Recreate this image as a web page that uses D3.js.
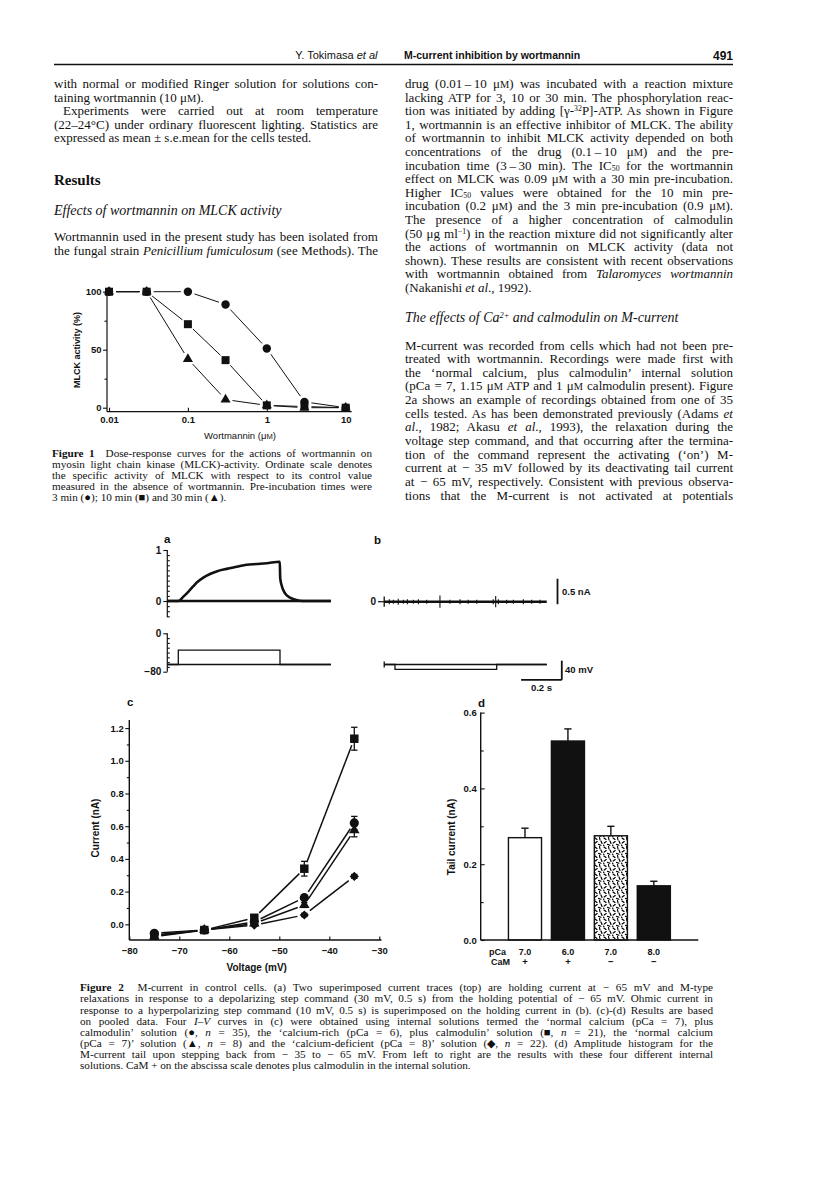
<!DOCTYPE html>
<html>
<head>
<meta charset="utf-8">
<title>M-current inhibition by wortmannin</title>
<script src="https://cdn.jsdelivr.net/npm/d3@7"></script>
<style>
  body { margin: 0; background: #fff; }
  svg { display: block; }
</style>
</head>
<body>
<script>
// ---- Figure 1: MLCK activity (%) against wortmannin (uM), three pre-incubation times
const fig1Conc = [0.01, 0.03, 0.1, 0.3, 1, 3, 10];
const fig1Pre3 = [100, 100, 100, 89, 51, 5, 0];     // circles
const fig1Pre10 = [100, 100, 72, 41, 2, 1, 0];      // squares
const fig1Pre30 = [100, 100, 42, 7, 2, 0, 0];       // triangles
const fig1XTicks = [0.01, 0.1, 1, 10];
const fig1YTicks = [0, 50, 100];

// ---- Figure 2a: current (nA) against time from step onset (ms)
const traceATime = [-54, 0, 25, 49, 74, 90, 123, 156, 188, 238, 287, 336, 385, 434, 499, 501, 510, 525, 550, 580, 610, 750];
const traceACurrent = [0, 0, 0.085, 0.18, 0.29, 0.36, 0.46, 0.53, 0.58, 0.63, 0.67, 0.71, 0.725, 0.74, 0.77, 0.45, 0.28, 0.15, 0.065, 0.02, 0, 0];
const holdATime = [-54, 750];
const holdACurrent = [0, 0];
const cmdATime = [-54, 0, 0, 500, 500, 750];
const cmdAVolt = [-65, -65, -35, -35, -65, -65];

// ---- Figure 2b: ohmic current with step artefacts
const traceBTime = [-53, 746];
const traceBCurrent = [0, 0];
const spikeBTime = [-28, -8, 16, 41, 61, 90, 115, 156, 221, 270, 320, 360, 402, 483, 495, 508, 549, 582, 631, 672, 713];
const spikeBAmp = [0.05, 0.04, 0.06, 0.04, 0.05, 0.04, 0.05, 0.04, 0.12, 0.04, 0.05, 0.04, 0.04, 0.05, 0.11, 0.05, 0.04, 0.04, 0.05, 0.04, 0.04];
const cmdBTime = [-53, 0, 0, 500, 500, 746];
const cmdBVolt = [-65, -65, -75, -75, -65, -65];

// ---- Figure 2c: I-V curves
const ivVolt = [-75, -65, -55, -45, -35];
const ivCa7CaM = [-0.055, -0.035, 0.015, 0.163, 0.62];     // circles, n = 35
const ivCa7CaMErr = [0.01, 0.008, 0.008, 0.015, 0.04];
const ivCa6CaM = [-0.07, -0.035, 0.04, 0.34, 1.135];       // squares, n = 21
const ivCa6CaMErr = [0.01, 0.008, 0.01, 0.045, 0.07];
const ivCa7 = [-0.075, -0.035, 0.005, 0.118, 0.575];       // triangles, n = 8
const ivCa7Err = [0.01, 0.008, 0.008, 0.015, 0.04];
const ivCa8 = [-0.065, -0.035, -0.005, 0.057, 0.293];      // diamonds, n = 22
const ivCa8Err = [0.008, 0.008, 0.008, 0.01, 0.012];
const ivXTicks = [-80, -70, -60, -50, -40, -30];
const ivYTicks = [0, 0.2, 0.4, 0.6, 0.8, 1.0, 1.2];

// ---- Figure 2d: tail current (nA)
const tailPCa = ["7.0", "6.0", "7.0", "8.0"];
const tailCaM = ["+", "+", "−", "−"];
const tailMean = [0.27, 0.525, 0.275, 0.143];
const tailErr = [0.025, 0.032, 0.025, 0.012];
const tailYTicks = [0, 0.2, 0.4, 0.6];

// ---- page text
const methodsLines = [
  { t: "with normal or modified Ringer solution for solutions con-", j: 1 },
  { t: "taining wortmannin (10 μ{sm:M})." },
  { t: "Experiments were carried out at room temperature", j: 1, ind: 9 },
  { t: "(22–24°C) under ordinary fluorescent lighting. Statistics are", j: 1 },
  { t: "expressed as mean ± s.e.mean for the cells tested." }
];
const mlckLeftLines = [
  { t: "Wortmannin used in the present study has been isolated from", j: 1 },
  { t: "the fungal strain {i:Penicillium fumiculosum} (see Methods). The", j: 1 }
];
const mlckRightLines = [
  { t: "drug (0.01\u2009–\u200910 μ{sm:M}) was incubated with a reaction mixture", j: 1 },
  { t: "lacking ATP for 3, 10 or 30 min. The phosphorylation reac-", j: 1 },
  { t: "tion was initiated by adding [γ-{sup:32}P]-ATP. As shown in Figure", j: 1 },
  { t: "1, wortmannin is an effective inhibitor of MLCK. The ability", j: 1 },
  { t: "of wortmannin to inhibit MLCK activity depended on both", j: 1 },
  { t: "concentrations of the drug (0.1\u2009–\u200910 μ{sm:M}) and the pre-", j: 1 },
  { t: "incubation time (3\u2009–\u200930 min). The IC{sub:50} for the wortmannin", j: 1 },
  { t: "effect on MLCK was 0.09 μ{sm:M} with a 30 min pre-incubation.", j: 1 },
  { t: "Higher IC{sub:50} values were obtained for the 10 min pre-", j: 1 },
  { t: "incubation (0.2 μ{sm:M}) and the 3 min pre-incubation (0.9 μ{sm:M}).", j: 1 },
  { t: "The presence of a higher concentration of calmodulin", j: 1 },
  { t: "(50 μg ml{sup:−1}) in the reaction mixture did not significantly alter", j: 1 },
  { t: "the actions of wortmannin on MLCK activity (data not", j: 1 },
  { t: "shown). These results are consistent with recent observations", j: 1 },
  { t: "with wortmannin obtained from {i:Talaromyces wortmannin}", j: 1 },
  { t: "(Nakanishi {i:et al}., 1992)." }
];
const mcurrentLines = [
  { t: "M-current was recorded from cells which had not been pre-", j: 1 },
  { t: "treated with wortmannin. Recordings were made first with", j: 1 },
  { t: "the ‘normal calcium, plus calmodulin’ internal solution", j: 1 },
  { t: "(pCa = 7, 1.15 μ{sm:M} ATP and 1 μ{sm:M} calmodulin present). Figure", j: 1 },
  { t: "2a shows an example of recordings obtained from one of 35", j: 1 },
  { t: "cells tested. As has been demonstrated previously (Adams {i:et}", j: 1 },
  { t: "{i:al}., 1982; Akasu {i:et al}., 1993), the relaxation during the", j: 1 },
  { t: "voltage step command, and that occurring after the termina-", j: 1 },
  { t: "tion of the command represent the activating (‘on’) M-", j: 1 },
  { t: "current at − 35 mV followed by its deactivating tail current", j: 1 },
  { t: "at − 65 mV, respectively. Consistent with previous observa-", j: 1 },
  { t: "tions that the M-current is not activated at potentials", j: 1 }
];
const fig1Caption = [
  { t: "{b:Figure 1}\u00a0 Dose-response curves for the actions of wortmannin on", j: 1 },
  { t: "myosin light chain kinase (MLCK)-activity. Ordinate scale denotes", j: 1 },
  { t: "the specific activity of MLCK with respect to its control value", j: 1 },
  { t: "measured in the absence of wortmannin. Pre-incubation times were", j: 1 },
  { t: "3 min (●); 10 min (■) and 30 min (▲)." }
];
const fig2Caption = [
  { t: "{b:Figure 2}\u00a0 M-current in control cells. (a) Two superimposed current traces (top) are holding current at − 65 mV and M-type", j: 1 },
  { t: "relaxations in response to a depolarizing step command (30 mV, 0.5 s) from the holding potential of − 65 mV. Ohmic current in", j: 1 },
  { t: "response to a hyperpolarizing step command (10 mV, 0.5 s) is superimposed on the holding current in (b). (c)-(d) Results are based", j: 1 },
  { t: "on pooled data. Four {i:I–V} curves in (c) were obtained using internal solutions termed the ‘normal calcium (pCa = 7), plus", j: 1 },
  { t: "calmodulin’ solution (●, {i:n} = 35), the ‘calcium-rich (pCa = 6), plus calmodulin’ solution (■, {i:n} = 21), the ‘normal calcium", j: 1 },
  { t: "(pCa = 7)’ solution (▲, {i:n} = 8) and the ‘calcium-deficient (pCa = 8)’ solution (◆, {i:n} = 22). (d) Amplitude histogram for the", j: 1 },
  { t: "M-current tail upon stepping back from − 35 to − 65 mV. From left to right are the results with these four different internal", j: 1 },
  { t: "solutions. CaM + on the abscissa scale denotes plus calmodulin in the internal solution." }
];

const ink = "#111";
const serif = "'Liberation Serif', 'Times New Roman', serif";
const sans = "'Liberation Sans', Arial, Helvetica, sans-serif";

const svg = d3.select("body").append("svg").attr("width", 816).attr("height", 1187);
svg.append("rect").attr("width", 816).attr("height", 1187).attr("fill", "#fff");

// stipple fill for the third bar
const pat = svg.append("defs").append("pattern")
  .attr("id", "stipple").attr("patternUnits", "userSpaceOnUse")
  .attr("width", 9).attr("height", 9);
pat.append("rect").attr("width", 9).attr("height", 9).attr("fill", "#fff");
pat.append("path")
  .attr("d", "M1,1 l2,1.5 M5.5,0.5 l0.5,2.5 M3.2,4.6 l-2,1.4 M7,4 l1,2.4 M4.5,7.4 l2.4,0.8 M0.6,8 l0.4,1.2")
  .attr("stroke", "#000").attr("stroke-width", 1.2).attr("stroke-linecap", "round");

// text with small inline markup: {i:..} {b:..} {sub:..} {sup:..} {sm:..}
function richText(g, x, y, src, o) {
  const size = o.size || 13;
  const t = g.append("text")
    .attr("x", x).attr("y", y)
    .attr("font-family", o.family || serif)
    .attr("font-size", size)
    .attr("fill", ink);
  if (o.anchor) t.attr("text-anchor", o.anchor);
  if (o.weight) t.attr("font-weight", o.weight);
  if (o.italic) t.attr("font-style", "italic");
  const re = /\{(i|b|sub|sup|sm):([^}]*)\}/g;
  const parts = [];
  let last = 0, m;
  while ((m = re.exec(src)) !== null) {
    if (m.index > last) parts.push(["", src.slice(last, m.index)]);
    parts.push([m[1], m[2]]);
    last = re.lastIndex;
  }
  if (last < src.length) parts.push(["", src.slice(last)]);
  let shift = 0;
  parts.forEach(([kind, s]) => {
    const span = t.append("tspan").text(s);
    let want = 0;
    if (kind === "i") span.attr("font-style", "italic");
    if (kind === "b") span.attr("font-weight", "bold");
    if (kind === "sm") span.attr("font-size", size * 0.8);
    if (kind === "sub") { span.attr("font-size", size * 0.6); want = size * 0.12; }
    if (kind === "sup") { span.attr("font-size", size * 0.6); want = -size * 0.3; }
    if (want !== shift) { span.attr("dy", want - shift); shift = want; }
  });
  if (o.width) {
    const gaps = (parts.map(p => p[1]).join("").match(/[ \u00a0]/g) || []).length;
    const natural = t.node().getComputedTextLength();
    if (gaps) t.attr("word-spacing", ((o.width - natural) / gaps).toFixed(2));
  }
  return t;
}

function paragraph(g, lines, x, y0, lead, width, o) {
  lines.forEach((ln, i) => {
    const ind = ln.ind || 0;
    richText(g, x + ind, y0 + i * lead, ln.t, Object.assign({}, o, { width: ln.j ? width - ind : null }));
  });
}

function styleAxis(sel, size, weight) {
  sel.select(".domain").remove();
  sel.selectAll(".tick line").attr("stroke", ink).attr("stroke-width", 1.1);
  sel.selectAll(".tick text").attr("fill", ink).attr("font-family", sans)
    .attr("font-size", size).attr("font-weight", weight || "bold");
}

function vline(g, x, ya, yb, w) {
  g.append("line").attr("x1", x).attr("x2", x).attr("y1", ya).attr("y2", yb)
    .attr("stroke", ink).attr("stroke-width", w || 1.2);
}
function hline(g, y, xa, xb, w) {
  g.append("line").attr("x1", xa).attr("x2", xb).attr("y1", y).attr("y2", y)
    .attr("stroke", ink).attr("stroke-width", w || 1.2);
}

// connecting segments stop short of the markers, as in the original plots
function series(g, pts, sym, size, gap, lw, rot) {
  for (let i = 0; i < pts.length - 1; i++) {
    const [ax, ay] = pts[i], [bx, by] = pts[i + 1];
    const dx = bx - ax, dy = by - ay, len = Math.hypot(dx, dy);
    if (len <= 2 * gap + 1) continue;
    const ux = dx / len, uy = dy / len;
    g.append("line")
      .attr("x1", ax + ux * gap).attr("y1", ay + uy * gap)
      .attr("x2", bx - ux * gap).attr("y2", by - uy * gap)
      .attr("stroke", ink).attr("stroke-width", lw);
  }
  g.selectAll(null).data(pts).join("path")
    .attr("transform", d => `translate(${d[0]},${d[1]})` + (rot ? " rotate(45)" : ""))
    .attr("d", d3.symbol(sym, size))
    .attr("fill", ink);
}

// ---------------- page header ----------------
const head = svg.append("g");
richText(head, 377.5, 59, "Y. Tokimasa {i:et al}", { family: sans, size: 11, anchor: "end" });
richText(head, 404, 59, "M-current inhibition by wortmannin", { family: sans, size: 10.5, weight: "bold" });
richText(head, 733, 60, "491", { family: sans, size: 12, weight: "bold", anchor: "end" });
hline(head, 64.5, 54, 733, 1.3);

// ---------------- body text ----------------
const body = svg.append("g");
const lead = 13.6;
paragraph(body, methodsLines, 54, 88, lead, 324, { size: 13 });
richText(body, 54, 185, "Results", { size: 15, weight: "bold" });
richText(body, 54, 215, "Effects of wortmannin on MLCK activity", { size: 14, italic: true });
paragraph(body, mlckLeftLines, 54, 241, lead, 324, { size: 13 });
paragraph(body, mlckRightLines, 405, 88, lead, 328, { size: 13 });
richText(body, 405, 322, "The effects of Ca{sup:2+} and calmodulin on M-current", { size: 14, italic: true });
paragraph(body, mcurrentLines, 405, 349.5, 13.65, 328, { size: 13 });

// ---------------- Figure 1 ----------------
const f1 = svg.append("g");
const x1 = d3.scaleLog().domain([0.01, 10]).range([109, 345.7]);
const y1 = d3.scaleLinear().domain([0, 100]).range([407.7, 291.7]);
hline(f1, 411.7, 107, 351.7, 1.2);
vline(f1, 107, 411.7, 290, 1.2);
f1.append("g").attr("transform", "translate(0,411.7)")
  .call(d3.axisBottom(x1).tickValues(fig1XTicks).tickSize(-4).tickPadding(5).tickFormat(d => String(d)))
  .call(s => styleAxis(s, 9.5));
f1.append("g").attr("transform", "translate(107,0)")
  .call(d3.axisLeft(y1).tickValues(fig1YTicks).tickSize(4).tickPadding(1.5))
  .call(s => styleAxis(s, 9.5));
f1.append("g").attr("transform", "translate(107,0)")
  .call(d3.axisLeft(y1).tickValues([25, 75]).tickSize(2.5).tickFormat(""))
  .call(s => styleAxis(s, 9.5));
richText(f1, 240, 438.5, "Wortmannin (μ{sm:M})", { family: sans, size: 9.5, anchor: "middle" });
richText(f1, 0, 0, "MLCK activity (%)", { family: sans, size: 9, weight: "bold", anchor: "middle" })
  .attr("transform", "translate(80,350) rotate(-90)");
const pts1 = ys => fig1Conc.map((c, i) => [x1(c), y1(ys[i])]);
series(f1, pts1(fig1Pre3), d3.symbolCircle, 56, 7, 1.0);
series(f1, pts1(fig1Pre30), d3.symbolTriangle, 44, 7, 1.0);
series(f1, pts1(fig1Pre10), d3.symbolSquare, 64, 7, 1.0);
paragraph(f1, fig1Caption, 52, 456.8, 11.1, 320, { size: 11.2 });

// ---------------- Figure 2a ----------------
const f2a = svg.append("g");
const ta = d3.scaleLinear().domain([0, 500]).range([178.3, 280]);
const ia = d3.scaleLinear().domain([0, 1]).range([601, 550]);
const va = d3.scaleLinear().domain([0, -80]).range([633.3, 671.7]);
richText(f2a, 164, 543, "a", { family: sans, size: 11.5, weight: "bold" });
vline(f2a, 167.3, ia(1), ia(-0.32), 1.2);
f2a.append("g").attr("transform", "translate(167.3,0)")
  .call(d3.axisLeft(ia).tickValues([0, 1]).tickSize(4).tickPadding(2).tickFormat(d3.format("d")))
  .call(s => styleAxis(s, 10));
f2a.append("g").attr("transform", "translate(167.3,0)")
  .call(d3.axisLeft(ia).tickValues(d3.range(-3, 10).map(k => k / 10)).tickSize(-2.5).tickFormat(""))
  .call(s => styleAxis(s, 10));
vline(f2a, 167.3, va(0), va(-80), 1.2);
f2a.append("g").attr("transform", "translate(167.3,0)")
  .call(d3.axisLeft(va).tickValues([0, -80]).tickSize(4).tickPadding(2))
  .call(s => styleAxis(s, 10));
f2a.append("g").attr("transform", "translate(167.3,0)")
  .call(d3.axisLeft(va).tickValues(d3.range(-70, 0, 10)).tickSize(-2.5).tickFormat(""))
  .call(s => styleAxis(s, 10));
const lineA = d3.line().x(d => ta(d[0])).y(d => ia(d[1])).curve(d3.curveMonotoneX);
f2a.append("path").datum(holdATime.map((t, i) => [t, holdACurrent[i]]))
  .attr("d", lineA).attr("fill", "none").attr("stroke", ink).attr("stroke-width", 2.4);
f2a.append("path").datum(traceATime.map((t, i) => [t, traceACurrent[i]]))
  .attr("d", lineA).attr("fill", "none").attr("stroke", ink).attr("stroke-width", 2.6)
  .attr("stroke-linejoin", "round");
const cmdLineA = d3.line().x(d => ta(d[0])).y(d => va(d[1]));
f2a.append("path").datum([[-54, -65], [750, -65]])
  .attr("d", cmdLineA).attr("fill", "none").attr("stroke", ink).attr("stroke-width", 1.3);
f2a.append("path").datum(cmdATime.map((t, i) => [t, cmdAVolt[i]]))
  .attr("d", cmdLineA).attr("fill", "none").attr("stroke", ink).attr("stroke-width", 1.3);

// ---------------- Figure 2b ----------------
const f2b = svg.append("g");
const tb = d3.scaleLinear().domain([0, 500]).range([395, 496.7]);
const ib = d3.scaleLinear().domain([0, 1]).range([601.7, 550.7]);
const vb = d3.scaleLinear().domain([0, -80]).range([633.3, 671.7]);
richText(f2b, 374, 544, "b", { family: sans, size: 11.5, weight: "bold" });
richText(f2b, 376, 605, "0", { family: sans, size: 10, weight: "bold", anchor: "end" });
hline(f2b, ib(0), 378, tb(-53), 1.2);
vline(f2b, tb(-53), ib(0.1), ib(-0.1), 1.3);
f2b.append("path").datum(traceBTime.map((t, i) => [t, traceBCurrent[i]]))
  .attr("d", d3.line().x(d => tb(d[0])).y(d => ib(d[1])))
  .attr("fill", "none").attr("stroke", ink).attr("stroke-width", 2.6);
f2b.selectAll("line.spike").data(spikeBTime).join("line")
  .attr("x1", d => tb(d)).attr("x2", d => tb(d))
  .attr("y1", (d, i) => ib(spikeBAmp[i])).attr("y2", (d, i) => ib(-spikeBAmp[i]))
  .attr("stroke", ink).attr("stroke-width", 1.1);
const cmdLineB = d3.line().x(d => tb(d[0])).y(d => vb(d[1]));
f2b.append("path").datum([[-53, -65], [746, -65]])
  .attr("d", cmdLineB).attr("fill", "none").attr("stroke", ink).attr("stroke-width", 1.3);
f2b.append("path").datum(cmdBTime.map((t, i) => [t, cmdBVolt[i]]))
  .attr("d", cmdLineB).attr("fill", "none").attr("stroke", ink).attr("stroke-width", 1.3);
vline(f2b, tb(-53), vb(-59), vb(-71), 1.3);
// calibration bars: 0.5 nA, 40 mV, 0.2 s
vline(f2b, 557.5, ib(0.45), ib(-0.05), 1.8);
richText(f2b, 562, 594.5, "0.5 nA", { family: sans, size: 9.5, weight: "bold" });
vline(f2b, tb(820), vb(-57), vb(-97), 1.8);
hline(f2b, vb(-97), tb(620), tb(820), 1.8);
richText(f2b, 565, 673, "40 mV", { family: sans, size: 9.5, weight: "bold" });
richText(f2b, tb(720), 691, "0.2 s", { family: sans, size: 9.5, weight: "bold", anchor: "middle" });

// ---------------- Figure 2c ----------------
const f2c = svg.append("g");
const xc = d3.scaleLinear().domain([-80, -30]).range([129.3, 379.3]);
const yc = d3.scaleLinear().domain([0, 1.2]).range([924.3, 728.1]);
richText(f2c, 127, 706, "c", { family: sans, size: 11.5, weight: "bold" });
hline(f2c, 940, 129.3, 381.5, 1.4);
vline(f2c, 129.3, 940, yc(1.25), 1.4);
f2c.append("g").attr("transform", "translate(0,940)")
  .call(d3.axisBottom(xc).tickValues(ivXTicks).tickSize(-3.5).tickPadding(6.8))
  .call(s => styleAxis(s, 9.5));
f2c.append("g").attr("transform", "translate(129.3,0)")
  .call(d3.axisLeft(yc).tickValues(ivYTicks).tickSize(4).tickPadding(1.5).tickFormat(d3.format(".1f")))
  .call(s => styleAxis(s, 9.5));
f2c.append("g").attr("transform", "translate(129.3,0)")
  .call(d3.axisLeft(yc).tickValues([0.1, 0.3, 0.5, 0.7, 0.9, 1.1]).tickSize(2.5).tickFormat(""))
  .call(s => styleAxis(s, 9.5));
richText(f2c, 256.7, 971, "Voltage (mV)", { family: sans, size: 10, weight: "bold", anchor: "middle" });
richText(f2c, 0, 0, "Current (nA)", { family: sans, size: 10, weight: "bold", anchor: "middle" })
  .attr("transform", "translate(98.5,828) rotate(-90)");

function ivSeries(vals, errs, sym, size, rot) {
  const pts = ivVolt.map((v, i) => [xc(v), yc(vals[i])]);
  ivVolt.forEach((v, i) => {
    const cx = xc(v), top = yc(vals[i] + errs[i]), bot = yc(vals[i] - errs[i]);
    vline(f2c, cx, top, bot, 1.3);
    hline(f2c, top, cx - 3.2, cx + 3.2, 1.3);
    hline(f2c, bot, cx - 3.2, cx + 3.2, 1.3);
  });
  series(f2c, pts, sym, size, 7, 1.5, rot);
}
ivSeries(ivCa8, ivCa8Err, d3.symbolSquare, 42, true);
ivSeries(ivCa7, ivCa7Err, d3.symbolTriangle, 48);
ivSeries(ivCa7CaM, ivCa7CaMErr, d3.symbolCircle, 66);
ivSeries(ivCa6CaM, ivCa6CaMErr, d3.symbolSquare, 72);

// ---------------- Figure 2d ----------------
const f2d = svg.append("g");
const xd = d3.scaleBand().domain(d3.range(tailMean.length)).range([503.5, 675.3])
  .paddingInner(0.23).paddingOuter(0.115);
const yd = d3.scaleLinear().domain([0, 0.6]).range([940, 712.6]);
const tailFill = ["#fff", ink, "url(#stipple)", ink];
richText(f2d, 478, 707, "d", { family: sans, size: 11.5, weight: "bold" });
f2d.selectAll("rect.bar").data(tailMean).join("rect")
  .attr("class", "bar")
  .attr("x", (d, i) => xd(i)).attr("width", xd.bandwidth())
  .attr("y", d => yd(d)).attr("height", d => yd(0) - yd(d))
  .attr("fill", (d, i) => tailFill[i]).attr("stroke", ink).attr("stroke-width", 1.4);
tailMean.forEach((mv, i) => {
  const cx = xd(i) + xd.bandwidth() / 2;
  vline(f2d, cx, yd(mv), yd(mv + tailErr[i]), 1.4);
  hline(f2d, yd(mv + tailErr[i]), cx - 3.6, cx + 3.6, 1.4);
});
hline(f2d, 940, 480.7, 698.3, 1.4);
vline(f2d, 480.7, 940, yd(0.6), 1.4);
f2d.append("g").attr("transform", "translate(480.7,0)")
  .call(d3.axisLeft(yd).tickValues(tailYTicks).tickSize(-4).tickPadding(4).tickFormat(d3.format(".1f")))
  .call(s => styleAxis(s, 9.5));
f2d.append("g").attr("transform", "translate(480.7,0)")
  .call(d3.axisLeft(yd).tickValues([0.1, 0.3, 0.5]).tickSize(-3).tickFormat(""))
  .call(s => styleAxis(s, 9.5));
richText(f2d, 0, 0, "Tail current (nA)", { family: sans, size: 10, weight: "bold", anchor: "middle" })
  .attr("transform", "translate(454.5,837) rotate(-90)");
richText(f2d, 506, 955, "pCa", { family: sans, size: 9, weight: "bold", anchor: "end" });
richText(f2d, 510, 965, "CaM", { family: sans, size: 9, weight: "bold", anchor: "end" });
tailPCa.forEach((p, i) => {
  const cx = xd(i) + xd.bandwidth() / 2;
  richText(f2d, cx, 955, p, { family: sans, size: 9, weight: "bold", anchor: "middle" });
  richText(f2d, cx, 965, tailCaM[i], { family: sans, size: 9.5, weight: "bold", anchor: "middle" });
});

// ---------------- Figure 2 caption ----------------
paragraph(svg.append("g"), fig2Caption, 80, 991.3, 11.1, 633, { size: 11.2 });
</script>
</body>
</html>
